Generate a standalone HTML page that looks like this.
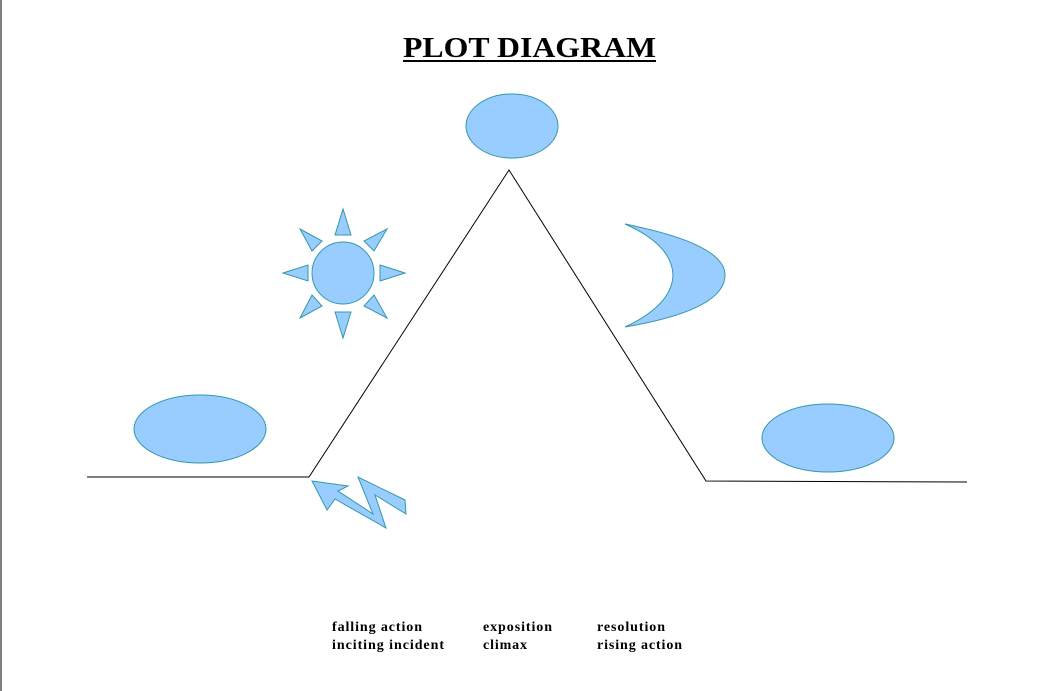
<!DOCTYPE html>
<html><head><meta charset="utf-8"><style>
html,body{margin:0;padding:0;background:#fff;}
svg{display:block}
text{font-family:"Liberation Serif",serif;}
</style></head><body>
<svg width="1055" height="691" viewBox="0 0 1055 691" xmlns="http://www.w3.org/2000/svg">
<line x1="1" y1="0" x2="1" y2="691" stroke="#000" stroke-width="1"/>
<text x="403" y="57" font-size="28" font-weight="bold" textLength="253" lengthAdjust="spacingAndGlyphs">PLOT DIAGRAM</text>
<line x1="403" y1="61" x2="656" y2="61" stroke="#000" stroke-width="2"/>
<polyline points="87,477 309,477 509,170 706,481 967,482" fill="none" stroke="#000" stroke-width="1"/>
<g fill="#99ccff" stroke="#3399aa" stroke-width="1">
<ellipse cx="512" cy="126" rx="46" ry="32"/>
<ellipse cx="200" cy="429" rx="66" ry="34"/>
<ellipse cx="828" cy="438" rx="66" ry="34"/>
<circle cx="343" cy="273" r="31"/>
<polygon points="343,209 335,235 351,235"/>
<polygon points="343,338 335,312 351,312"/>
<polygon points="283,273 308,265 308,281"/>
<polygon points="405,273 380,265 380,281"/>
<polygon points="300,229 322,241 312,251"/>
<polygon points="387,229 364,241 374,251"/>
<polygon points="300,318 312,295 322,306"/>
<polygon points="387,318 364,306 374,295"/>
<path d="M625,224 Q725,244 725,275 Q725,310 625,327 Q672,305 673,275 Q672,245 625,224 Z"/>
<polygon points="312,481 348,486 338,491 373,514 358,477 405,500 406,514 375,495 386,528 335,499 327,510"/>
</g>
<g font-size="14" font-weight="bold">
<text x="332" y="631" textLength="90" lengthAdjust="spacing">falling action</text>
<text x="332" y="649" textLength="112" lengthAdjust="spacing">inciting incident</text>
<text x="483" y="631" textLength="69" lengthAdjust="spacing">exposition</text>
<text x="483" y="649" textLength="44" lengthAdjust="spacing">climax</text>
<text x="597" y="631" textLength="68" lengthAdjust="spacing">resolution</text>
<text x="597" y="649" textLength="85" lengthAdjust="spacing">rising action</text>
</g>
</svg>
</body></html>
